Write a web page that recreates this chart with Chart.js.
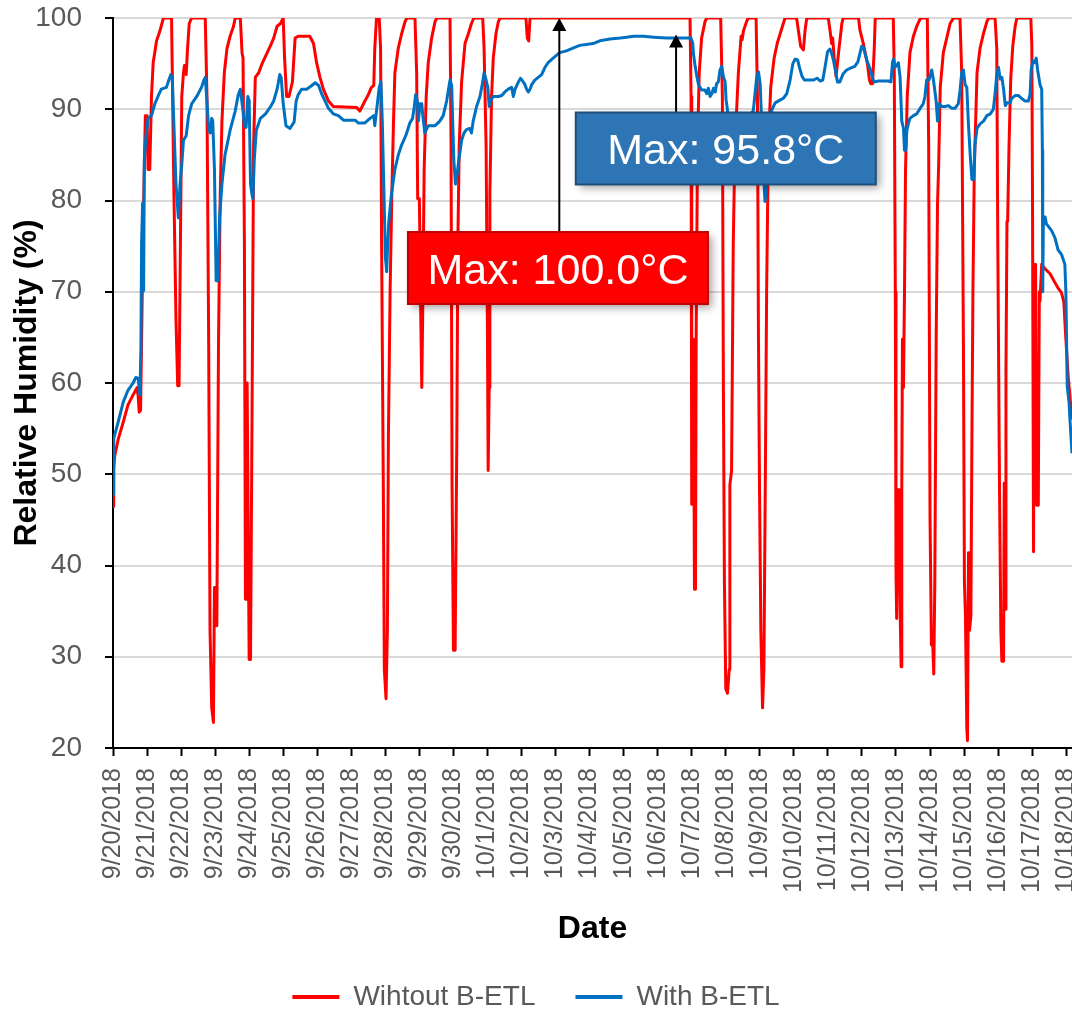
<!DOCTYPE html>
<html><head><meta charset="utf-8">
<script src="https://cdn.jsdelivr.net/npm/chart.js@4/dist/chart.umd.min.js"></script>
<style>html,body{margin:0;padding:0;background:#fff;overflow:hidden}#wrap{width:1072px;height:1010px;position:relative}</style>
</head><body><div id="wrap"><canvas id="c"></canvas></div>
<script>
const dateLabels = ['9/20/2018','9/21/2018','9/22/2018','9/23/2018','9/24/2018','9/25/2018','9/26/2018','9/27/2018','9/28/2018','9/29/2018','9/30/2018','10/1/2018','10/2/2018','10/3/2018','10/4/2018','10/5/2018','10/6/2018','10/7/2018','10/8/2018','10/9/2018','10/10/2018','10/11/2018','10/12/2018','10/13/2018','10/14/2018','10/15/2018','10/16/2018','10/17/2018','10/18/2018'];
const seriesNames = ['Wihtout B-ETL','With B-ETL'];

// time in days since 9/20/2018, relative humidity (%)
const redT = [0.00,0.02,0.05,0.15,0.30,0.44,0.59,0.71,0.74,0.77,0.81,0.84,0.89,0.95,1.00,1.03,1.08,1.13,1.18,1.28,1.38,1.48,1.72,1.79,1.85,1.90,1.94,1.98,2.02,2.07,2.10,2.15,2.19,2.24,2.31,2.71,2.76,2.81,2.85,2.90,2.95,2.98,3.03,3.05,3.10,3.15,3.20,3.27,3.35,3.44,3.54,3.59,3.74,3.79,3.82,3.86,3.89,3.92,3.94,3.96,4.00,4.04,4.08,4.13,4.18,4.28,4.38,4.53,4.63,4.72,4.82,4.92,5.00,5.04,5.10,5.17,5.27,5.35,5.44,5.78,5.89,5.98,6.08,6.18,6.33,6.47,7.16,7.25,7.40,7.50,7.59,7.66,7.69,7.74,7.82,7.86,7.89,7.94,7.97,8.02,8.06,8.09,8.14,8.19,8.24,8.28,8.38,8.48,8.58,8.63,8.87,8.92,8.95,9.00,9.04,9.07,9.10,9.14,9.20,9.26,9.36,9.46,9.51,9.90,9.93,9.96,10.00,10.05,10.10,10.13,10.17,10.24,10.34,10.44,10.53,10.60,10.86,10.90,10.96,11.00,11.02,11.05,11.07,11.12,11.17,11.25,11.32,11.37,12.13,12.17,12.21,12.25,16.95,16.98,17.00,17.03,17.05,17.08,17.11,17.13,17.17,17.22,17.29,17.39,17.44,17.85,17.90,17.93,17.96,18.00,18.05,18.10,18.12,18.17,18.22,18.27,18.37,18.45,18.48,18.52,18.61,18.66,18.89,18.93,18.96,18.99,19.03,19.08,19.12,19.16,19.20,19.25,19.32,19.42,19.51,19.64,19.74,20.08,20.13,20.20,20.28,20.33,20.38,21.01,21.06,21.11,21.14,21.18,21.24,21.31,21.41,21.45,21.90,21.94,22.04,22.16,22.22,22.26,22.31,22.36,22.39,22.92,22.95,22.98,23.00,23.02,23.05,23.09,23.12,23.15,23.17,23.19,23.22,23.25,23.28,23.33,23.41,23.51,23.61,23.71,23.76,23.92,23.96,24.00,24.04,24.08,24.11,24.14,24.18,24.22,24.25,24.30,24.39,24.49,24.59,24.69,24.88,24.93,24.98,25.01,25.04,25.08,25.10,25.13,25.16,25.20,25.23,25.26,25.30,25.38,25.47,25.57,25.67,25.72,25.91,25.96,25.99,26.04,26.08,26.11,26.16,26.18,26.21,26.23,26.26,26.28,26.32,26.37,26.43,26.50,26.55,26.96,26.99,27.01,27.04,27.06,27.10,27.13,27.18,27.21,27.23,27.28,27.38,27.52,27.67,27.76,27.86,27.93,27.99,28.06,28.11,28.17];
const redV = [46.5,50.5,52,53.8,55.7,57.6,58.7,59.5,58.5,56.8,57,64.8,78,89.3,89.3,83.4,83.4,91.4,95.1,97.5,98.6,100,100,80.7,67,59.7,59.7,75,91.4,94,94.8,93.8,96.7,99.4,100,100,91.4,64.8,32.9,24.4,22.8,37.6,37.6,33.4,64.8,80.7,88.7,94,96.7,98,99.1,100,100,96.2,95.6,75.4,36.3,36.3,60,60,29.7,29.7,54,86,93.5,94,95,96.2,97,97.8,99.1,99.4,100,95.6,91.4,91.4,93,97.8,98,98,97.2,95.1,93.5,92.2,90.9,90.3,90.2,89.8,90.9,91.6,92.4,92.6,96.7,100,100,96.7,75.4,48.8,28.6,25.4,32.9,54.1,70.1,80.7,88.7,94,96.7,98.3,99.6,100,100,94,80.2,80.2,67.4,59.5,68.5,83.4,91.4,95.1,97.8,99.6,100,100,86,48.8,30.7,30.7,54.1,75.4,86,93,97.2,98.3,99.4,100,100,96.7,86,64.8,50.4,59.5,80.7,91.4,95.6,98.3,99.6,100,100,97.8,97.5,100,100,91.4,46.7,46.7,64.8,37.4,37.4,64.8,86,94,97.8,99.6,100,100,91.4,59.5,38.2,26.5,26,28.6,48.8,50.4,75.4,86,94,98,97.6,98.6,99.6,100,100,91.4,64.8,48.8,32.9,24.4,28.6,48.8,70.1,86,92.4,95.6,97.2,98.8,100,100,98.7,96.9,96.5,98.7,100,100,98.7,97.2,97.8,95.8,93.6,96.1,99.4,100,100,98.7,97.2,95,93.2,92.8,92.8,96.5,100,100,94,70,39.3,34.2,48.3,48.3,35.5,28.9,48,64.8,59.5,70.1,83.4,91.4,96.2,98,99.1,99.9,100,100,86,45.1,31.3,31.3,28.1,38.2,64.8,79.7,83.4,92.4,96.2,97.8,99.4,100,100,94,64.8,38.2,34.5,22.2,20.8,41.4,32.9,34.5,54,70.1,83.4,94,96.7,98.3,99.6,100,100,96.7,75.4,48.8,32.9,29.5,29.5,49,35.2,61.1,77.7,77.7,86,93.3,96.9,99.1,100,100,97,80,41.5,73,73,46.6,46.6,70,69,73,72.5,72,71,70.4,69.9,68.9,64.8,60.6,58.5,56];

const blueT = [0.00,0.02,0.15,0.30,0.44,0.59,0.67,0.74,0.79,0.82,0.84,0.87,0.90,0.92,0.97,1.03,1.13,1.23,1.32,1.42,1.57,1.64,1.70,1.74,1.79,1.85,1.92,1.97,2.02,2.07,2.15,2.22,2.31,2.46,2.60,2.67,2.71,2.76,2.81,2.86,2.90,2.93,2.98,3.03,3.08,3.13,3.20,3.29,3.44,3.59,3.68,3.74,3.82,3.86,3.91,3.96,4.00,4.04,4.08,4.11,4.15,4.21,4.33,4.48,4.63,4.72,4.82,4.90,4.94,5.00,5.08,5.20,5.32,5.38,5.44,5.54,5.69,5.84,5.94,6.04,6.14,6.23,6.33,6.47,6.62,6.77,7.11,7.20,7.40,7.55,7.66,7.69,7.74,7.82,7.87,7.91,7.96,8.00,8.04,8.06,8.10,8.18,8.28,8.38,8.48,8.60,8.72,8.80,8.85,8.89,8.94,8.97,9.02,9.07,9.10,9.16,9.26,9.46,9.60,9.70,9.80,9.90,9.95,9.97,10.01,10.06,10.09,10.14,10.24,10.31,10.39,10.48,10.53,10.58,10.68,10.78,10.86,10.90,10.96,11.01,11.05,11.09,11.17,11.32,11.42,11.51,11.61,11.71,11.76,11.81,11.91,11.97,12.05,12.10,12.15,12.20,12.25,12.30,12.39,12.49,12.59,12.69,12.78,12.93,13.12,13.32,13.51,13.71,13.90,14.10,14.30,14.60,14.90,15.09,15.29,15.58,15.88,16.27,16.98,17.03,17.05,17.10,17.15,17.20,17.29,17.39,17.44,17.49,17.54,17.59,17.64,17.69,17.73,17.78,17.83,17.88,17.93,17.98,18.01,18.05,18.08,18.12,18.18,18.25,18.40,18.55,18.70,18.81,18.91,18.96,19.01,19.04,19.10,19.15,19.20,19.27,19.35,19.45,19.59,19.69,19.79,19.89,19.97,20.04,20.11,20.17,20.24,20.31,20.43,20.58,20.68,20.77,20.85,20.92,20.99,21.06,21.11,21.16,21.21,21.28,21.35,21.45,21.55,21.66,21.79,21.88,21.94,21.99,22.04,22.09,22.14,22.18,22.25,22.33,22.38,22.48,22.62,22.77,22.85,22.90,22.93,22.97,23.02,23.07,23.12,23.17,23.22,23.25,23.28,23.32,23.37,23.41,23.51,23.61,23.71,23.80,23.85,23.90,23.97,24.05,24.10,24.18,24.22,24.27,24.35,24.44,24.54,24.64,24.73,24.83,24.88,24.93,24.98,25.03,25.08,25.13,25.18,25.23,25.28,25.32,25.38,25.47,25.57,25.67,25.77,25.86,25.91,25.96,26.01,26.06,26.11,26.16,26.21,26.26,26.35,26.40,26.50,26.60,26.69,26.79,26.89,26.94,26.97,27.02,27.07,27.12,27.16,27.23,27.28,27.30,27.31,27.33,27.38,27.42,27.47,27.57,27.67,27.76,27.86,27.96,27.99,28.03,28.08,28.11,28.17];
const blueV = [47.8,53.9,55.7,57.9,59.2,60,60.6,60.5,58.7,63.7,75.4,79.7,70.1,84.5,87.1,89,89.3,90.6,91.4,92.2,92.4,93.2,93.8,93.5,88.2,81.8,78.1,81.8,83.9,86.6,87.1,89.3,90.6,91.4,92.4,93.2,93.5,90.9,87.7,87.4,89,88.7,83.4,71.2,71.2,78.1,81.8,85,87.7,89.8,91.6,92.2,89.8,88.2,88,91.4,90.9,81.8,80.7,80.2,84.5,87.7,89,89.5,90.3,90.9,92.2,93.8,93.5,90.6,88.2,87.9,88.6,90.9,91.6,92.2,92.2,92.6,92.9,92.6,91.6,90.9,90.1,89.5,89.3,88.8,88.8,88.5,88.5,89,89.3,88.2,89.8,92.4,93,88.7,80.7,73.8,72.2,74.4,77.6,80.7,83.4,85,86.1,87.1,88.5,89,90.3,91.6,90.9,88.7,90.6,90.6,89.3,87.4,88.2,88.2,88.7,89.3,90.9,93.2,92.6,89.8,84.5,81.8,82.3,83.9,86.6,87.4,87.8,87.9,87.4,88.7,90.3,91.4,93,94,93.2,92.4,90.3,90.9,91.4,91.4,91.5,91.9,92.2,92.4,91.4,92.2,93,93.4,93,92.7,92.2,91.9,92.2,92.7,93.2,93.5,93.8,94.6,95.1,95.6,96.2,96.4,96.7,97,97.1,97.2,97.5,97.7,97.8,97.9,98,98,97.9,97.8,97.8,97.2,96.1,94.7,93.6,92.7,92.1,92.1,91.7,92.3,91.4,91.7,92.3,91.9,92.8,93,94.3,94.7,93.6,93,91,89.9,86.6,84,83,85,87,88.2,89.2,89.9,93.6,94.1,92.8,89.9,84,79.9,81.6,86,89.9,90.7,91,91.2,91.7,93.2,95,95.5,95.4,94.5,93.6,93.2,93.2,93.2,93.4,93.1,93.2,94.7,96.3,96.6,96.1,95.4,94.5,93,93,93.9,94.3,94.5,94.7,95.2,96.1,96.9,96.8,96.1,95.4,95,94.3,93.2,93,93.1,93.1,93.1,93,95.2,95.5,94.6,94.8,95.1,93.5,88.7,87.9,85.5,85.5,87.7,88.5,89,89.3,89.5,90.1,90.6,91.4,93.2,93.2,94.3,93.2,90.9,88.7,90.6,90.3,90.3,90.4,90.1,90.1,90.6,92,94,94.3,92.7,92.4,88.2,85,82.3,82.3,86.1,87.9,88.4,88.7,89.3,89.5,90,91.7,93.8,94.6,93.3,93.5,92.2,90.4,90.7,90.7,91.2,91.5,91.5,91.2,90.9,90.9,91.7,94.3,95.3,95.1,95.6,94.3,92.7,92.2,85.5,70,78.2,78.2,77.4,77.2,76.7,75.9,74.6,74.1,73,70,59.6,58,56,52.3];

// callouts: arrow tip and box centre in data units (days, %)
const callouts = [
  {text:'Max: 100.0°C', tipX:13.11, tipY:100, boxX:13.07, boxY:72.6, fill:'#FF0000', edge:'#C00000'},
  {text:'Max: 95.8°C',  tipX:16.54, tipY:98.2, boxX:18.0,  boxY:85.7, fill:'#2E75B6', edge:'#1F4E79'}
];

const FONT = '"Liberation Sans", Arial, sans-serif';
const GRAY = '#595959';

const toPts = (t, v) => t.map((x, i) => ({x, y: v[i]}));

const calloutPlugin = {
  id: 'callouts',
  afterDatasetsDraw(chart) {
    const {ctx, scales: {x, y}} = chart;
    callouts.forEach(a => {
      const tx = x.getPixelForValue(a.tipX), ty = y.getPixelForValue(a.tipY);
      const bx = x.getPixelForValue(a.boxX), by = y.getPixelForValue(a.boxY);
      const w = 300, h = 72, top = by - h / 2;
      ctx.save();
      ctx.strokeStyle = '#000'; ctx.lineWidth = 2;
      ctx.beginPath(); ctx.moveTo(tx, top); ctx.lineTo(tx, ty + 10); ctx.stroke();
      ctx.fillStyle = '#000';
      ctx.beginPath(); ctx.moveTo(tx, ty); ctx.lineTo(tx - 7, ty + 13); ctx.lineTo(tx + 7, ty + 13); ctx.closePath(); ctx.fill();
      ctx.shadowColor = 'rgba(0,0,0,0.35)'; ctx.shadowBlur = 8; ctx.shadowOffsetX = 4; ctx.shadowOffsetY = 4;
      ctx.fillStyle = a.fill; ctx.fillRect(bx - w / 2, top, w, h);
      ctx.shadowColor = 'transparent'; ctx.shadowBlur = 0; ctx.shadowOffsetX = 0; ctx.shadowOffsetY = 0;
      ctx.strokeStyle = a.edge; ctx.lineWidth = 2; ctx.strokeRect(bx - w / 2, top, w, h);
      ctx.fillStyle = '#fff'; ctx.font = '43px ' + FONT; ctx.textAlign = 'center'; ctx.textBaseline = 'alphabetic';
      ctx.fillText(a.text, bx, by + 15.5);
      ctx.restore();
    });
  }
};

new Chart(document.getElementById('c'), {
  type: 'line',
  data: {
    datasets: [
      {label: seriesNames[0], data: toPts(redT, redV), borderColor: '#FF0000', backgroundColor: '#FF0000', borderWidth: 3, pointRadius: 0, tension: 0, order: 2, borderJoinStyle: 'round'},
      {label: seriesNames[1], data: toPts(blueT, blueV), borderColor: '#0070C0', backgroundColor: '#0070C0', borderWidth: 3, pointRadius: 0, tension: 0, order: 1, borderJoinStyle: 'round'}
    ]
  },
  options: {
    responsive: true, maintainAspectRatio: false, animation: false,
    layout: {autoPadding: false, padding: {top: 18, left: 0, right: 0, bottom: -11}},
    plugins: {
      tooltip: {enabled: false},
      legend: {
        position: 'bottom',
        labels: {
          font: {family: FONT, size: 28}, color: GRAY, boxWidth: 47, boxHeight: 4, padding: 40,
          sort: (a, b) => a.datasetIndex - b.datasetIndex,
          generateLabels(chart) {
            const items = Chart.defaults.plugins.legend.labels.generateLabels(chart);
            items.forEach(i => { i.lineWidth = 0; i.fillStyle = i.strokeStyle; });
            return items;
          }
        }
      }
    },
    scales: {
      x: {
        type: 'linear', min: 0, max: 28.17,
        afterBuildTicks(s) { s.ticks = dateLabels.map((_, i) => ({value: i})); },
        afterFit(s) { s.paddingLeft = 0; s.paddingRight = 0; s.height = 273 - (s.chart.legend ? s.chart.legend.height : 78); },
        ticks: {autoSkip: false, minRotation: 90, maxRotation: 90, padding: 12, color: GRAY, font: {family: FONT, size: 25},
          callback: (v) => dateLabels[v] !== undefined ? dateLabels[v] : ''},
        grid: {drawOnChartArea: false, drawTicks: true, tickLength: 8, tickColor: '#000', tickWidth: 2},
        border: {display: true, color: '#000', width: 2},
        title: {display: true, text: 'Date', color: '#000', font: {family: FONT, size: 32, weight: 'bold'}, padding: {top: 0, bottom: -5}}
      },
      y: {
        min: 20, max: 100,
        afterFit(s) { s.width = 113; s.paddingTop = 0; s.paddingBottom = 0; },
        ticks: {stepSize: 10, padding: 23, color: GRAY, font: {family: FONT, size: 28}},
        grid: {color: '#D9D9D9', lineWidth: 2, drawTicks: true, tickLength: 8, tickColor: '#000', tickWidth: 2},
        border: {display: true, color: '#000', width: 2},
        title: {display: true, text: 'Relative Humidity (%)', color: '#000', font: {family: FONT, size: 32, weight: 'bold'}, padding: {top: 8, bottom: 0}}
      }
    }
  },
  plugins: [calloutPlugin]
});
</script>
</body></html>
